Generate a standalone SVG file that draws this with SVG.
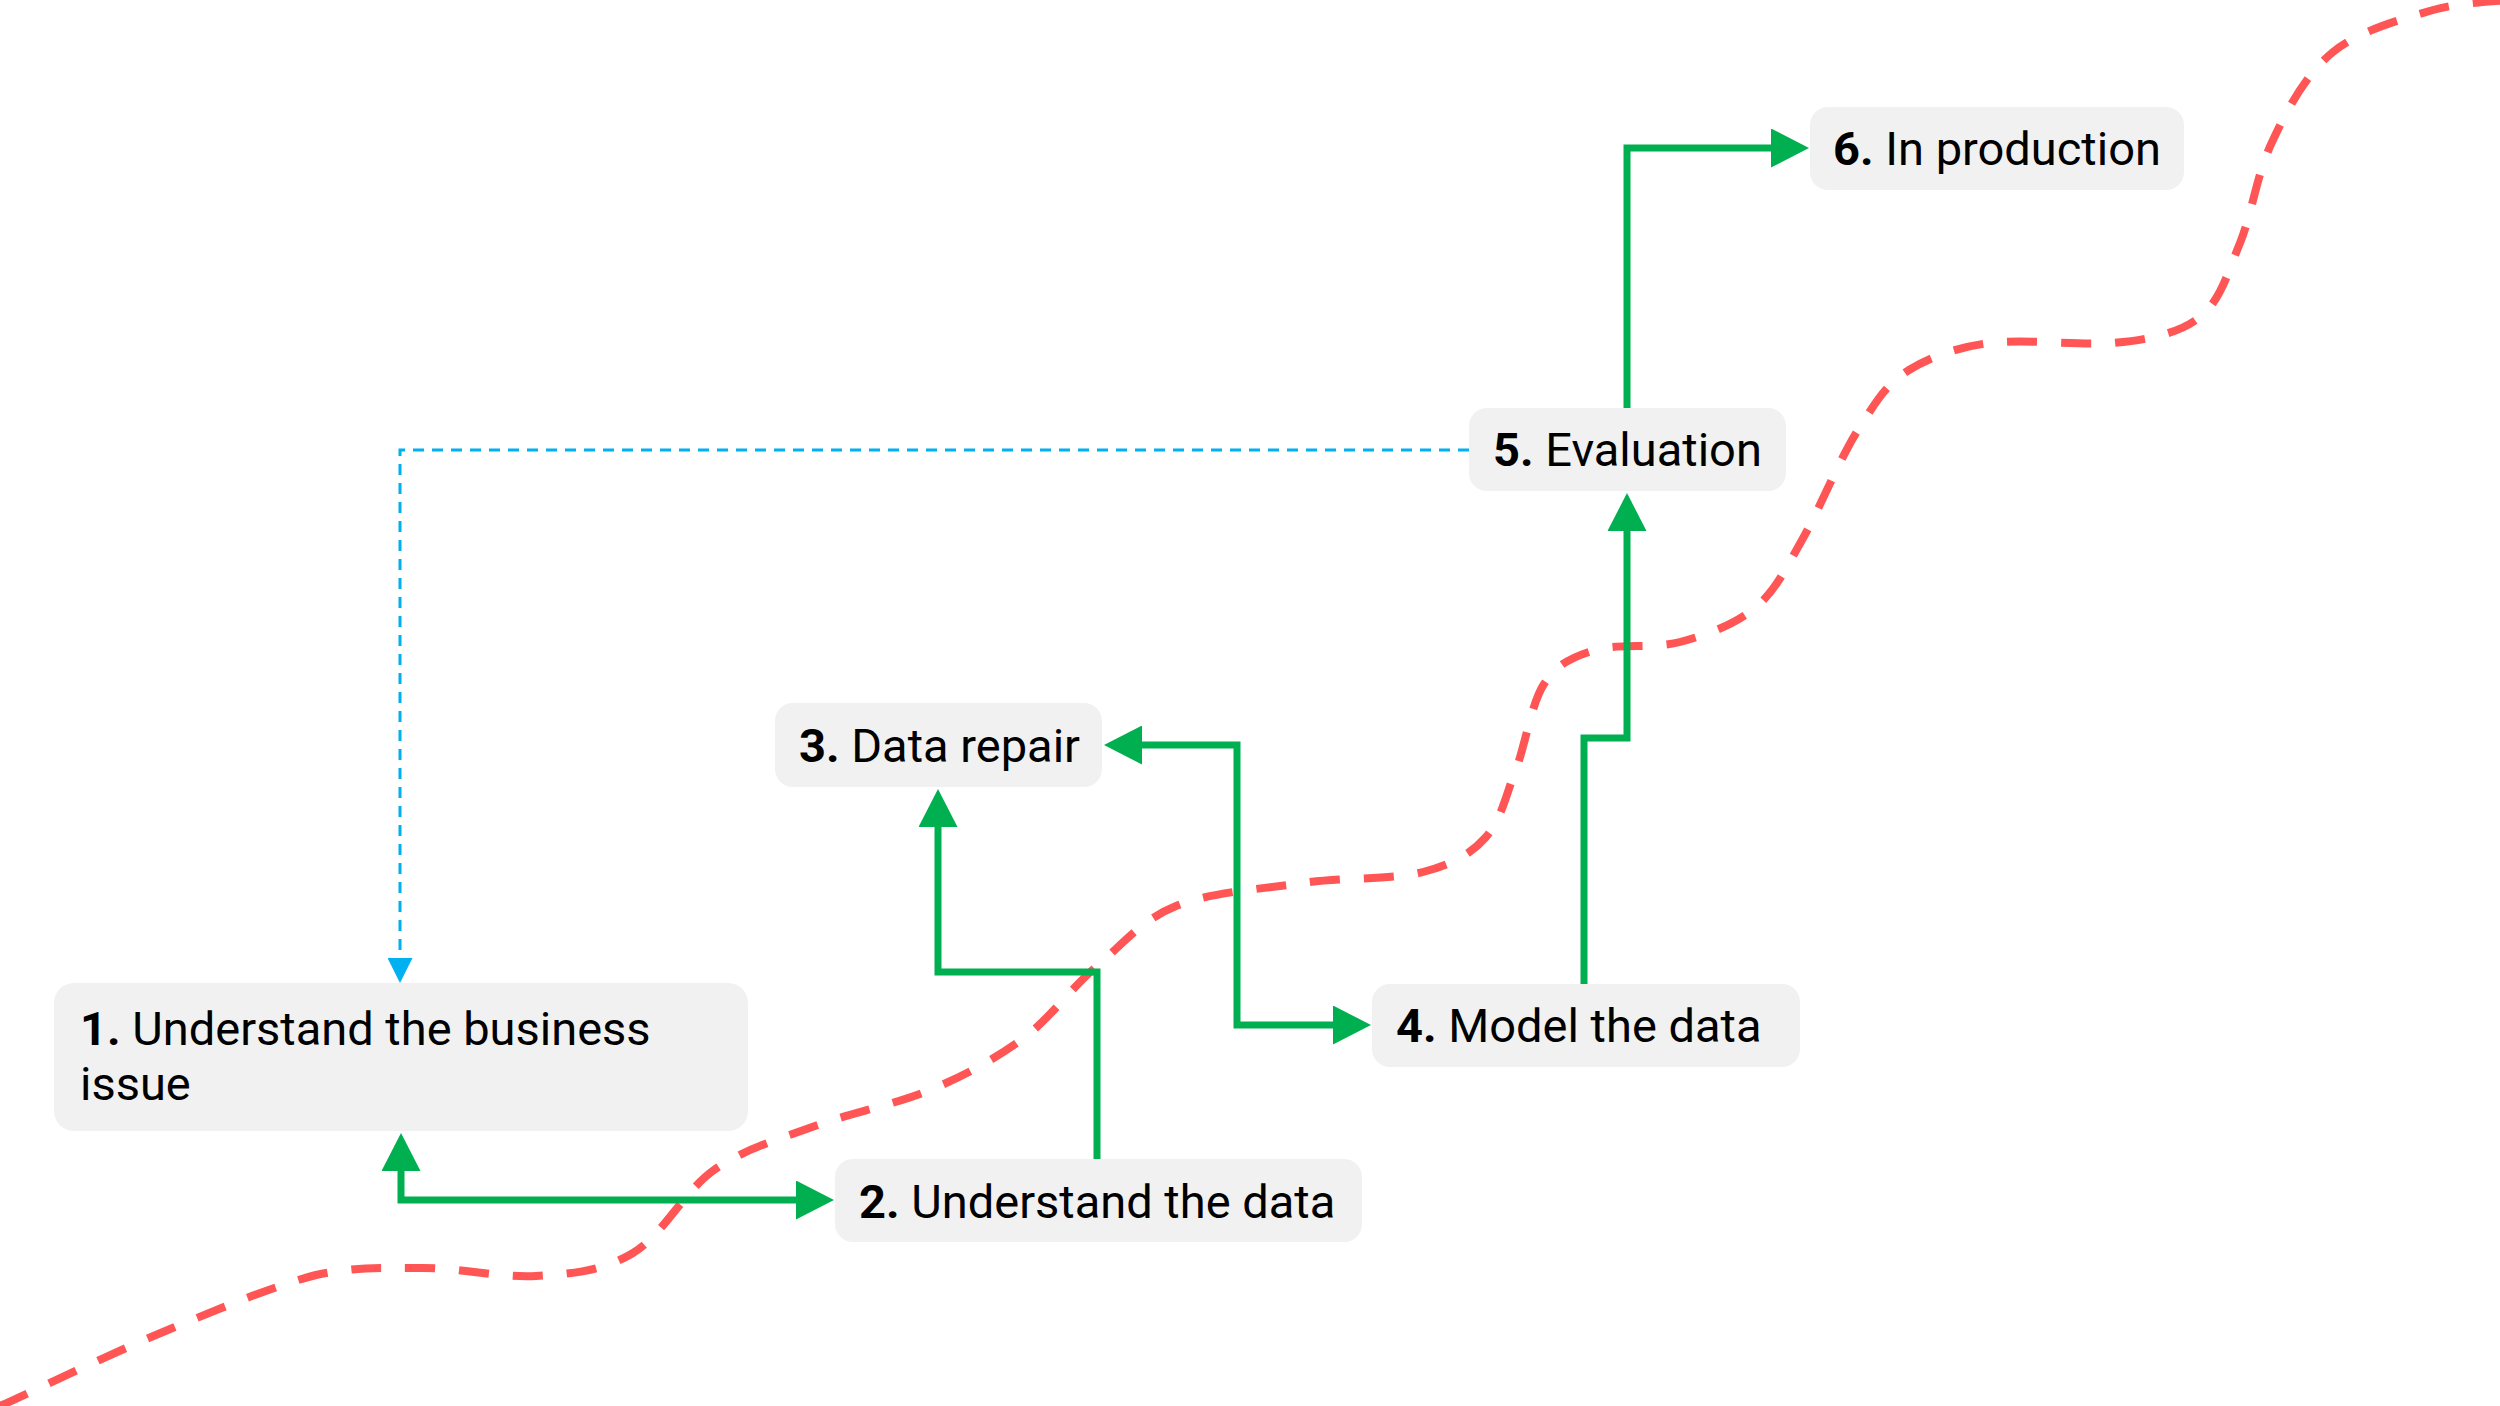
<svg xmlns="http://www.w3.org/2000/svg" width="2500" height="1406" viewBox="0 0 2500 1406">
<style>
.node rect{fill:#f1f1f1}
.node text{font-family:Roboto,"Liberation Sans",sans-serif;font-size:47px;fill:#000}
.node tspan.n{font-weight:700}
.conn{fill:none;stroke:#00b050;stroke-width:7}
.fb{fill:none;stroke:#00b0f0;stroke-width:3;stroke-dasharray:11 8}
.road{fill:none;stroke:#ff5555;stroke-width:8;stroke-dasharray:30 24}
</style>
<defs>
<marker id="ag" markerUnits="userSpaceOnUse" viewBox="0 0 38 39" markerWidth="38" markerHeight="39" refX="1" refY="19.5" orient="auto-start-reverse">
<path d="M0,0 L38,19.5 L0,39 z" fill="#00b050"/>
</marker>
<marker id="ab" markerUnits="userSpaceOnUse" viewBox="0 0 25 25" markerWidth="25" markerHeight="25" refX="1" refY="12.5" orient="auto">
<path d="M0,0 L25,12.5 L0,25 z" fill="#00b0f0"/>
</marker>
</defs>
<g id="road">
<path class="road" d="M0,1406 C27,1394 110,1354 163,1332 C216,1310 273,1286 316,1275 C359,1266 386,1268 423,1268 C460,1268 501,1278 536,1276 C571,1274 603,1271 633,1253 C663,1235 684,1191 714,1170 C744,1149 779,1139 815,1126 C851,1113 896,1104 930,1090 C964,1076 993,1060 1021,1040 C1049,1020 1070,989 1096,967 C1122,945 1141,920 1176,906 C1210,892 1262,889 1303,883 C1344,877 1392,880 1423,872 C1453,864 1471,854 1486,837 C1501,820 1505,798 1515,772 C1525,747 1531,704 1544,684 C1557,664 1572,657 1595,650 C1618,643 1653,649 1680,642 C1707,635 1736,624 1756,607 C1776,590 1785,570 1802,540 C1819,510 1840,458 1858,430 C1876,402 1885,385 1909,370 C1933,355 1967,344 2001,342 C2035,340 2080,345 2113,343 C2146,340 2179,334 2200,317 C2221,300 2228,272 2240,243 C2252,214 2257,172 2273,140 C2288,108 2306,74 2333,52 C2360,30 2403,19 2433,10 C2463,2 2497,1 2510,0"/>
</g>
<g id="connectors">
<path class="conn" d="M401,1170 L401,1200 L797,1200" marker-start="url(#ag)" marker-end="url(#ag)"/>
<path class="conn" d="M1097,1159 L1097,972 L938,972 L938,826" marker-end="url(#ag)"/>
<path class="conn" d="M1141,745 L1237,745 L1237,1025 L1334,1025" marker-start="url(#ag)" marker-end="url(#ag)"/>
<path class="conn" d="M1584,984 L1584,738 L1627,738 L1627,530" marker-end="url(#ag)"/>
<path class="conn" d="M1627,408 L1627,148 L1772,148" marker-end="url(#ag)"/>
<path class="fb" d="M1469,450 L400,450 L400,959" marker-end="url(#ab)"/>
</g>
<g id="node1" class="node">
<rect x="54" y="983" width="694" height="148" rx="20"/>
<text x="80" y="1045"><tspan class="n">1.</tspan> Understand the business</text>
<text x="80" y="1100">issue</text>
</g>
<g id="node2" class="node">
<rect x="835" y="1159" width="527" height="83" rx="18"/>
<text x="859" y="1218"><tspan class="n">2.</tspan> Understand the data</text>
</g>
<g id="node3" class="node">
<rect x="775" y="703" width="327" height="84" rx="18"/>
<text x="799" y="762"><tspan class="n">3.</tspan> Data repair</text>
</g>
<g id="node4" class="node">
<rect x="1372" y="984" width="428" height="83" rx="18"/>
<text x="1396" y="1042"><tspan class="n">4.</tspan> Model the data</text>
</g>
<g id="node5" class="node">
<rect x="1469" y="408" width="317" height="83" rx="18"/>
<text x="1493" y="466"><tspan class="n">5.</tspan> Evaluation</text>
</g>
<g id="node6" class="node">
<rect x="1810" y="107" width="374" height="83" rx="18"/>
<text x="1833" y="165"><tspan class="n">6.</tspan> In production</text>
</g>
</svg>
